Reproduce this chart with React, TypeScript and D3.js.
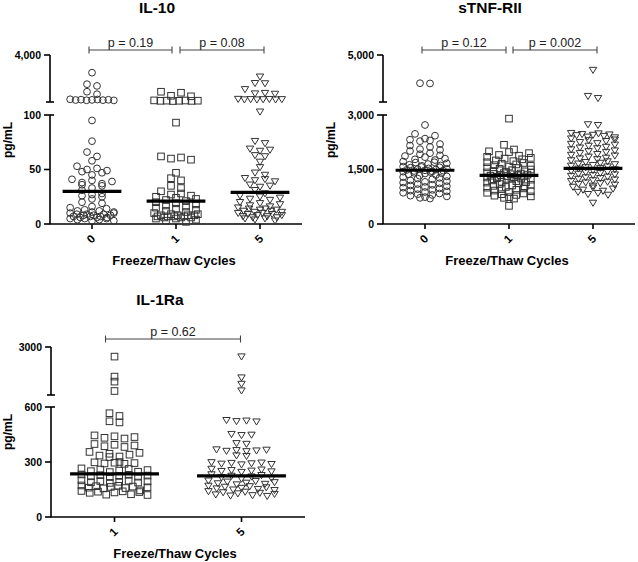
import React from 'react';
import * as d3 from 'd3';

// ---------- data ----------
const CYCLES_3 = ['0', '1', '5'];
const CYCLES_2 = ['1', '5'];

const IL10_C0 = [2570, 1640, 1500, 1030, 830, 420, 400, 390, 380, 370, 360, 350, 340, 330,
  95, 76, 66, 62, 58, 53, 51, 50, 49, 48, 47, 45, 41, 40, 39, 38, 37, 36, 35, 33, 31, 28, 27, 26, 25, 23,
  20, 19, 16, 15, 14, 13, 12, 12, 11, 11, 10, 10, 9, 9, 9, 8, 8, 8, 7, 7, 7, 6, 6, 6, 5, 5, 5, 4, 4, 3, 3];
const IL10_C1 = [1030, 950, 700, 660, 330, 320, 310, 305, 300, 295, 290, 280,
  93, 62, 61, 60, 59, 47, 42, 40, 35, 33, 30, 28, 27, 26, 25, 24, 23, 22, 21, 20, 19, 18, 17, 16, 15, 14,
  13, 12, 11, 10, 9, 9, 8, 8, 8, 8, 7, 7, 7, 7, 6, 6, 6, 5, 5, 4, 3, 2];
const IL10_C5 = [2245, 1720, 1700, 1225, 920, 880, 850, 440, 430, 420, 415, 410, 400, 395, 390,
  103, 76, 74, 69, 68, 67, 63, 62, 57, 52, 47, 45, 42, 41, 40, 39, 36, 35, 34, 31, 28, 26, 25, 24, 23, 22,
  20, 19, 18, 17, 16, 15, 14, 14, 13, 13, 12, 12, 11, 11, 10, 10, 9, 9, 8, 8, 7, 7, 6, 6, 5, 5, 4, 3];
const IL10_MEDIANS = [30, 21, 29];
const IL10_P = ['p = 0.19', 'p = 0.08'];
const IL10_LOWER_TICKS = [0, 50, 100];
const IL10_UPPER_TICKS = [4000];

const STNF_C0 = [3800, 3790, 2725, 2480, 2430, 2350, 2320, 2300, 2280, 2200, 2160, 2120, 2060, 2040, 2010,
  1950, 1920, 1890, 1870, 1840, 1800, 1780, 1760, 1720, 1700, 1690, 1670, 1650, 1630, 1610, 1600, 1580,
  1570, 1560, 1550, 1530, 1520, 1510, 1500, 1490, 1480, 1470, 1460, 1450, 1440, 1430, 1410, 1400, 1390,
  1370, 1350, 1330, 1310, 1290, 1270, 1250, 1230, 1200, 1180, 1160, 1140, 1120, 1100, 1080, 1060, 1040,
  1020, 1000, 980, 960, 940, 920, 900, 880, 860, 840, 820, 800, 780, 760, 740, 720, 700];
const STNF_C1 = [2900, 2180, 2050, 2000, 1980, 1950, 1900, 1880, 1850, 1820, 1800, 1780, 1750, 1730, 1700,
  1680, 1660, 1640, 1620, 1600, 1580, 1560, 1540, 1520, 1500, 1480, 1460, 1450, 1440, 1420, 1410, 1400,
  1390, 1380, 1370, 1360, 1350, 1340, 1330, 1320, 1310, 1300, 1290, 1280, 1270, 1260, 1250, 1240, 1220,
  1200, 1180, 1160, 1150, 1140, 1120, 1100, 1080, 1060, 1050, 1040, 1020, 1000, 980, 960, 940, 920, 900,
  880, 860, 840, 820, 800, 780, 760, 740, 720, 700, 500];
const STNF_C5 = [4360, 3250, 3160, 2740, 2720, 2500, 2490, 2470, 2460, 2450, 2440, 2420, 2400, 2380, 2350,
  2320, 2300, 2280, 2250, 2220, 2200, 2180, 2150, 2120, 2100, 2080, 2050, 2020, 2000, 1980, 1950, 1920,
  1900, 1880, 1850, 1820, 1800, 1780, 1750, 1720, 1700, 1680, 1660, 1640, 1620, 1600, 1580, 1560, 1540,
  1520, 1500, 1480, 1460, 1440, 1420, 1400, 1380, 1360, 1340, 1320, 1300, 1280, 1260, 1240, 1220, 1200,
  1180, 1160, 1140, 1120, 1100, 1080, 1050, 1020, 1000, 970, 940, 910, 880, 850, 820, 800, 580];
const STNF_MEDIANS = [1480, 1340, 1530];
const STNF_P = ['p = 0.12', 'p = 0.002'];
const STNF_LOWER_TICKS = [0, 1500, 3000];
const STNF_UPPER_TICKS = [5000];

const IL1RA_C1 = [2520, 1520, 1270, 800,
  566, 551, 522, 516, 445, 440, 436, 432, 428, 398, 394, 390, 386, 382, 355, 350, 345, 340, 335, 330, 327,
  300, 298, 296, 294, 292, 290, 265, 262, 259, 256, 253, 250, 247, 245,
  232, 230, 228, 226, 224, 222, 220, 218, 200, 198, 196, 194, 192, 190, 188, 186,
  172, 170, 168, 166, 164, 162, 160, 158, 156, 145, 142, 140, 138, 136, 134, 132, 124, 122, 120];
const IL1RA_C5 = [2520, 1470, 1150, 820,
  528, 525, 522, 520, 452, 448, 446, 402, 398, 368, 366, 364, 362, 360, 358, 335, 332,
  298, 296, 294, 292, 290, 288, 286, 262, 258, 255, 252, 250, 248, 245,
  232, 228, 224, 220, 216, 212, 208, 198, 195, 192, 189, 186, 183, 180, 177,
  170, 167, 164, 161, 158, 155, 152, 149, 146, 140, 137, 134, 131, 128, 125, 122, 118, 116, 114];
const IL1RA_MEDIANS = [235, 224];
const IL1RA_P = ['p = 0.62'];
const IL1RA_LOWER_TICKS = [0, 300, 600];
const IL1RA_UPPER_TICKS = [3000];

// ---------- layout helpers ----------
type Shape = 'circle' | 'square' | 'triangle';
const FONT = 'Arial, "Liberation Sans", Helvetica, sans-serif';
const MARK = '#333';

function swarmX(ys: number[], cx: number, maxW: number): number[] {
  const ROW_H = 5, MAX_SP = 10;
  const idx = d3.range(ys.length).sort((a, b) => ys[a] - ys[b]);
  const xs: number[] = new Array(ys.length).fill(cx);
  let i = 0;
  while (i < idx.length) {
    const y0 = ys[idx[i]];
    const row: number[] = [];
    while (i < idx.length && ys[idx[i]] - y0 < ROW_H) { row.push(idx[i]); i++; }
    const n = row.length;
    const sp = n > 1 ? Math.min(MAX_SP, maxW / (n - 1)) : 0;
    const slots = d3.range(n).map(k => (k - (n - 1) / 2) * sp);
    const order = d3.range(n).sort((a, b) => ((a * 0.618) % 1) - ((b * 0.618) % 1));
    row.forEach((p, j) => { xs[p] = cx + slots[order[j]]; });
  }
  return xs;
}

function Marker({ shape, x, y }: { shape: Shape; x: number; y: number }) {
  const common = { fill: 'none', stroke: MARK, strokeWidth: 1 };
  if (shape === 'circle') return <circle cx={x} cy={y} r={3.4} {...common} />;
  if (shape === 'square') return <rect x={x - 3.3} y={y - 3.3} width={6.6} height={6.6} {...common} />;
  return <path d={`M${x - 3.7},${y - 2.7}L${x + 3.7},${y - 2.7}L${x},${y + 3.4}Z`} {...common} />;
}

interface Bracket { a: number; b: number; label: string; d0: number; d1: number }
interface PanelProps {
  title: string; titlePos: [number, number];
  cats: string[]; groups: number[][]; medians: number[]; shapes: Shape[];
  xRange: [number, number];
  loDomain: [number, number]; loRange: [number, number];
  hiDomain: [number, number]; hiRange: [number, number];
  loTicks: number[]; hiTicks: number[]; fmt: (v: number) => string;
  ylabelPos: [number, number]; xlabelPos: [number, number];
  bracketY: number; brackets: Bracket[];
}

function Panel(p: PanelProps) {
  const x = d3.scaleBand<string>().domain(p.cats).range(p.xRange);
  const yLo = d3.scaleLinear().domain(p.loDomain).range(p.loRange);
  const yHi = d3.scaleLinear().domain(p.hiDomain).range(p.hiRange);
  const yOf = (v: number) => (v < p.hiDomain[0] ? yLo(v) : yHi(v));
  const ax = p.xRange[0];
  const axisY = p.loRange[0];
  const bw = x.bandwidth();
  const cx = (c: string) => (x(c) as number) + bw / 2;
  const loTop = yLo(p.loDomain[1]);
  const hiBot = yHi(p.hiDomain[0]);
  const hiTop = yHi(p.hiDomain[1]);
  const axisStroke = { stroke: '#000', strokeWidth: 1.6 };

  return (
    <g>
      <text x={p.titlePos[0]} y={p.titlePos[1]} textAnchor="middle" fontFamily={FONT} fontWeight="bold" fontSize={15.5}>{p.title}</text>
      {/* brackets */}
      {p.brackets.map((b, i) => {
        const x0 = cx(p.cats[b.a]) + b.d0;
        const x1 = cx(p.cats[b.b]) + b.d1;
        return (
          <g key={i} stroke="#444" strokeWidth={1.1}>
            <line x1={x0} x2={x1} y1={p.bracketY} y2={p.bracketY} />
            <line x1={x0} x2={x0} y1={p.bracketY - 3.5} y2={p.bracketY + 3.5} />
            <line x1={x1} x2={x1} y1={p.bracketY - 3.5} y2={p.bracketY + 3.5} />
            <text x={(x0 + x1) / 2} y={p.bracketY - 3.5} textAnchor="middle" fontFamily={FONT} fontSize={12.5} fill="#222" stroke="none">{b.label}</text>
          </g>
        );
      })}
      {/* y axis lower segment */}
      <line x1={ax} x2={ax} y1={loTop} y2={axisY} {...axisStroke} />
      {p.loTicks.map((t, i) => {
        const y = yLo(t);
        const isTop = i === p.loTicks.length - 1;
        return (
          <g key={'lt' + t}>
            <line x1={ax - 6} x2={isTop ? ax + 4 : ax} y1={y} y2={y} {...axisStroke} />
            <text x={ax - 9} y={y + 3.6} textAnchor="end" fontFamily={FONT} fontWeight="bold" fontSize={10.5}>{p.fmt(t)}</text>
          </g>
        );
      })}
      {/* y axis upper segment */}
      <line x1={ax} x2={ax} y1={hiTop} y2={hiBot} {...axisStroke} />
      <line x1={ax - 4} x2={ax + 4} y1={hiBot} y2={hiBot} {...axisStroke} />
      {p.hiTicks.map(t => {
        const y = yHi(t);
        return (
          <g key={'ht' + t}>
            <line x1={ax - 6} x2={ax} y1={y} y2={y} {...axisStroke} />
            <text x={ax - 9} y={y + 3.6} textAnchor="end" fontFamily={FONT} fontWeight="bold" fontSize={10.5}>{p.fmt(t)}</text>
          </g>
        );
      })}
      {/* x axis */}
      <line x1={ax - 0.8} x2={p.xRange[1]} y1={axisY} y2={axisY} {...axisStroke} />
      {p.cats.map(c => (
        <g key={'xc' + c}>
          <line x1={cx(c)} x2={cx(c)} y1={axisY} y2={axisY + 5} {...axisStroke} />
          <text transform={`translate(${cx(c) - 1},${axisY + 15}) rotate(-45)`} textAnchor="middle" dominantBaseline="central" fontFamily={FONT} fontWeight="bold" fontSize={11.5}>{c}</text>
        </g>
      ))}
      <text x={p.xlabelPos[0]} y={p.xlabelPos[1]} textAnchor="middle" fontFamily={FONT} fontWeight="bold" fontSize={13}>Freeze/Thaw Cycles</text>
      <text transform={`translate(${p.ylabelPos[0]},${p.ylabelPos[1]}) rotate(-90)`} textAnchor="middle" fontFamily={FONT} fontWeight="bold" fontSize={12}>pg/mL</text>
      {/* points */}
      {p.groups.map((vals, gi) => {
        const c = p.cats[gi];
        const ys = vals.map(yOf);
        const xs = swarmX(ys, cx(c), bw * 0.52);
        return (
          <g key={'g' + gi}>
            {vals.map((v, k) => <Marker key={k} shape={p.shapes[gi]} x={xs[k]} y={ys[k]} />)}
          </g>
        );
      })}
      {/* medians */}
      {p.medians.map((m, gi) => {
        const c = p.cats[gi];
        return <line key={'m' + gi} x1={cx(c) - bw * 0.35} x2={cx(c) + bw * 0.35} y1={yOf(m)} y2={yOf(m)} stroke="#000" strokeWidth={3.2} />;
      })}
    </g>
  );
}

const fmtComma = d3.format(',');
const fmtPlain = d3.format('d');

export default function App() {
  return (
    <svg width={638} height={562} style={{ position: 'absolute', left: 0, top: 0, background: '#fff' }}>
      <rect width={638} height={562} fill="#fff" />
      <Panel
        title="IL-10" titlePos={[157, 13]}
        cats={CYCLES_3} groups={[IL10_C0, IL10_C1, IL10_C5]} medians={IL10_MEDIANS}
        shapes={['circle', 'square', 'triangle']}
        xRange={[50, 302]}
        loDomain={[0, 100]} loRange={[224, 115]}
        hiDomain={[200, 4000]} hiRange={[102, 55]}
        loTicks={IL10_LOWER_TICKS} hiTicks={IL10_UPPER_TICKS} fmt={fmtComma}
        ylabelPos={[12, 140]} xlabelPos={[174, 264.5]}
        bracketY={50}
        brackets={[{ a: 0, b: 1, label: IL10_P[0], d0: -3, d1: -4 }, { a: 1, b: 2, label: IL10_P[1], d0: 4, d1: 4 }]}
      />
      <Panel
        title="sTNF-RII" titlePos={[490, 13]}
        cats={CYCLES_3} groups={[STNF_C0, STNF_C1, STNF_C5]} medians={STNF_MEDIANS}
        shapes={['circle', 'square', 'triangle']}
        xRange={[383, 635]}
        loDomain={[0, 3000]} loRange={[224, 115]}
        hiDomain={[3000, 5000]} hiRange={[102, 55]}
        loTicks={STNF_LOWER_TICKS} hiTicks={STNF_UPPER_TICKS} fmt={fmtComma}
        ylabelPos={[335, 140]} xlabelPos={[507, 264.5]}
        bracketY={50}
        brackets={[{ a: 0, b: 1, label: STNF_P[0], d0: -3, d1: -3 }, { a: 1, b: 2, label: STNF_P[1], d0: 4, d1: 4 }]}
      />
      <Panel
        title="IL-1Ra" titlePos={[160, 305]}
        cats={CYCLES_2} groups={[IL1RA_C1, IL1RA_C5]} medians={IL1RA_MEDIANS}
        shapes={['square', 'triangle']}
        xRange={[51, 305]}
        loDomain={[0, 600]} loRange={[517, 407]}
        hiDomain={[600, 3000]} hiRange={[395, 347]}
        loTicks={IL1RA_LOWER_TICKS} hiTicks={IL1RA_UPPER_TICKS} fmt={fmtPlain}
        ylabelPos={[12, 432]} xlabelPos={[175, 557.5]}
        bracketY={339}
        brackets={[{ a: 0, b: 1, label: IL1RA_P[0], d0: -9, d1: -1 }]}
      />
    </svg>
  );
}
